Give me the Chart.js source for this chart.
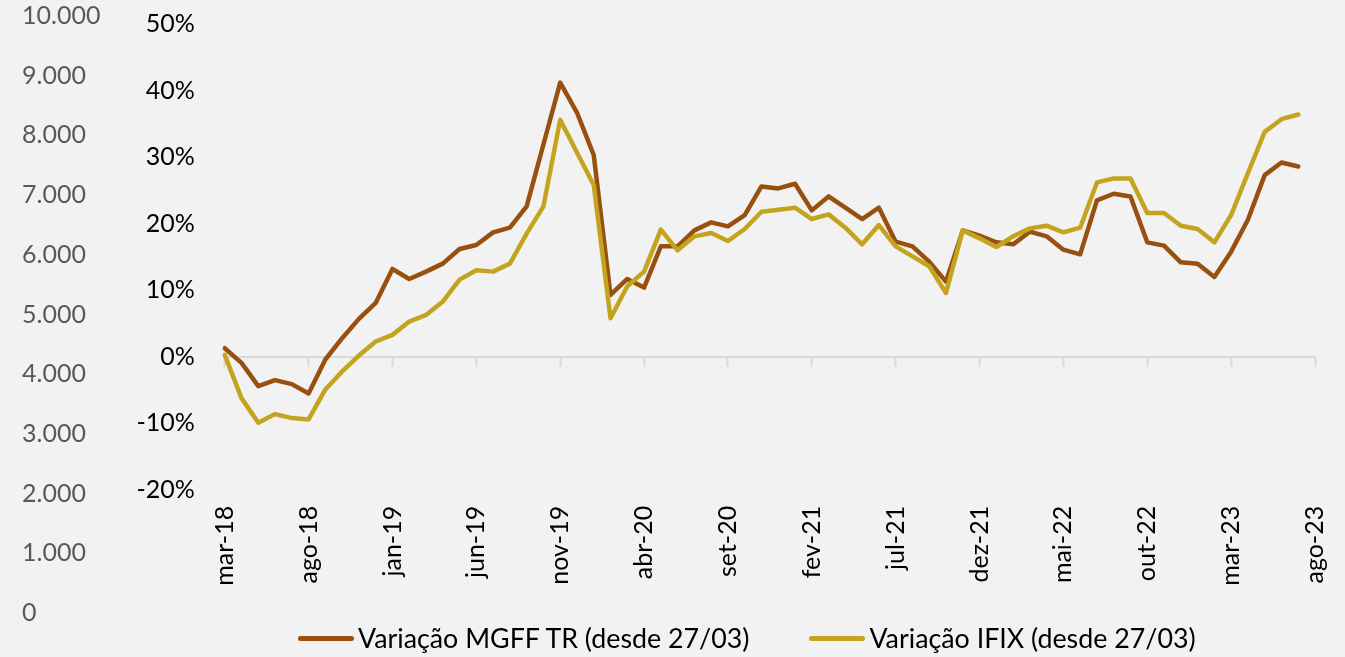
<!DOCTYPE html>
<html>
<head>
<meta charset="utf-8">
<script src="https://cdn.jsdelivr.net/npm/chart.js@4.4.1/dist/chart.umd.min.js"></script>
<style>
    html,body{margin:0;padding:0;background:#f2f2f2;}
    .wrap{position:relative;width:1345px;height:657px;overflow:hidden;}
    #myChart{display:block;}
    #legend{position:absolute;left:298px;top:623px;display:flex;align-items:center;height:30px;font-family:Lato,sans-serif;font-size:26.8px;line-height:30px;color:#000;white-space:nowrap;}
    #legend .item{display:flex;align-items:center;margin-right:60px;}
    #legend .mark{display:block;width:56px;height:5px;border-radius:3px;margin-right:4px;}
</style>
</head>
<body>
<div class="wrap">
    <canvas id="myChart" width="1345" height="657"></canvas>
    <div id="legend"></div>
</div>
<script>
var monthLabels = ["mar-18","abr-18","mai-18","jun-18","jul-18","ago-18","set-18","out-18","nov-18","dez-18",
    "jan-19","fev-19","mar-19","abr-19","mai-19","jun-19","jul-19","ago-19","set-19","out-19","nov-19","dez-19",
    "jan-20","fev-20","mar-20","abr-20","mai-20","jun-20","jul-20","ago-20","set-20","out-20","nov-20","dez-20",
    "jan-21","fev-21","mar-21","abr-21","mai-21","jun-21","jul-21","ago-21","set-21","out-21","nov-21","dez-21",
    "jan-22","fev-22","mar-22","abr-22","mai-22","jun-22","jul-22","ago-22","set-22","out-22","nov-22","dez-22",
    "jan-23","fev-23","mar-23","abr-23","mai-23","jun-23","jul-23","ago-23"];

// variação acumulada em %, mensal de mar-18 a jul-23
var mgffValues = [1.3,-0.9,-4.4,-3.5,-4.1,-5.5,-0.4,2.8,5.7,8.1,
    13.2,11.7,12.8,14.0,16.2,16.8,18.7,19.4,22.6,31.9,41.2,36.7,
    30.3,9.3,11.7,10.4,16.6,16.6,19.0,20.2,19.6,21.3,25.6,25.3,
    26.0,22.0,24.1,22.4,20.7,22.4,17.3,16.6,14.3,11.3,19.0,18.2,
    17.2,16.9,18.8,18.1,16.1,15.4,23.5,24.5,24.1,17.2,16.7,14.2,
    14.0,12.0,15.8,20.6,27.3,29.2,28.6];
var ifixValues = [0.3,-6.2,-9.9,-8.6,-9.2,-9.4,-4.9,-2.2,0.2,2.3,
    3.3,5.3,6.3,8.3,11.6,13.0,12.8,14.0,18.5,22.6,35.6,30.7,
    25.8,5.8,10.6,12.8,19.1,16.0,18.1,18.6,17.4,19.2,21.8,22.1,
    22.4,20.7,21.4,19.4,16.9,19.8,16.6,15.1,13.6,9.6,19.0,17.8,
    16.5,18.1,19.3,19.7,18.7,19.4,26.2,26.8,26.8,21.6,21.6,19.7,
    19.2,17.2,21.3,27.6,33.8,35.7,36.4];

var pctTicks = [-20,-10,0,10,20,30,40,50];
var seriesNames = ["Variação MGFF TR (desde 27/03)","Variação IFIX (desde 27/03)"];
var seriesColors = ["#97500f","#c4a41f"];

Chart.defaults.font.family = "Lato";
Chart.defaults.font.size = 25;

var fmtMil = function(v){
    return String(v).replace(/\B(?=(\d{3})+(?!\d))/g, ".");
};
// so um rotulo a cada 5 meses
var everyFifth = function(scale){
    scale.ticks = scale.ticks.filter(function(t, i){ return i % 5 === 0; });
};

var ctx = document.getElementById("myChart");
var mChart = new Chart(ctx, {
    type: 'line',
    data: {
        labels: monthLabels,
        datasets: [{
            label: seriesNames[0],
            data: mgffValues,
            borderColor: seriesColors[0],
            backgroundColor: seriesColors[0],
            borderWidth: 4.5,
            borderJoinStyle: 'round',
            borderCapStyle: 'round',
            pointRadius: 0,
            tension: 0,
            yAxisID: 'y',
            order: 1
        },
        {
            label: seriesNames[1],
            data: ifixValues,
            borderColor: seriesColors[1],
            backgroundColor: seriesColors[1],
            borderWidth: 4.5,
            borderJoinStyle: 'round',
            borderCapStyle: 'round',
            pointRadius: 0,
            tension: 0,
            yAxisID: 'y',
            order: 0
        }]
    },
    options: {
        responsive: false,
        animation: false,
        layout: {padding: {left: 22, right: 30, top: 16, bottom: 44}},
        plugins: {
            legend: {display: false},
            tooltip: {enabled: false}
        },
        scales: {
            x: {
                type: 'category',
                axis: 'x',
                position: {y: 0},
                offset: false,
                grid: {display: true, drawOnChartArea: false, drawTicks: true, tickLength: 9, tickColor: '#d9d9d9', tickWidth: 2},
                border: {display: true, color: '#d9d9d9', width: 2},
                ticks: {display: false},
                afterBuildTicks: everyFifth
            },
            x2: {
                type: 'category',
                axis: 'x',
                position: {y: 0},
                offset: false,
                grid: {display: false, drawTicks: true, tickLength: 149},
                border: {display: false},
                ticks: {autoSkip: false, minRotation: 90, maxRotation: 90, padding: 0, color: '#000'},
                afterBuildTicks: everyFifth
            },
            yL: {
                type: 'linear',
                axis: 'y',
                position: 'left',
                weight: 1,
                min: 0,
                max: 10000,
                grid: {display: false, drawTicks: true, tickLength: 36},
                border: {display: false},
                ticks: {stepSize: 1000, crossAlign: 'far', padding: 0, color: '#595959',
                    callback: function(v){ return fmtMil(v); }}
            },
            y: {
                type: 'linear',
                position: 'left',
                weight: 0,
                min: -38.48,
                max: 51.2,
                grid: {display: false, drawTicks: true, tickLength: 30},
                border: {display: false},
                afterBuildTicks: function(scale){
                    scale.ticks = pctTicks.map(function(v){ return {value: v}; });
                },
                ticks: {padding: 0, color: '#000',
                    callback: function(v){ return v + '%'; }}
            }
        }
    }
});

// legenda em html, montada a partir dos datasets
var legendBox = document.getElementById('legend');
mChart.data.datasets.forEach(function(ds){
    var item = document.createElement('span');
    item.className = 'item';
    var mark = document.createElement('span');
    mark.className = 'mark';
    mark.style.background = ds.borderColor;
    var txt = document.createElement('span');
    txt.textContent = ds.label;
    item.appendChild(mark);
    item.appendChild(txt);
    legendBox.appendChild(item);
});
</script>
</body>
</html>
